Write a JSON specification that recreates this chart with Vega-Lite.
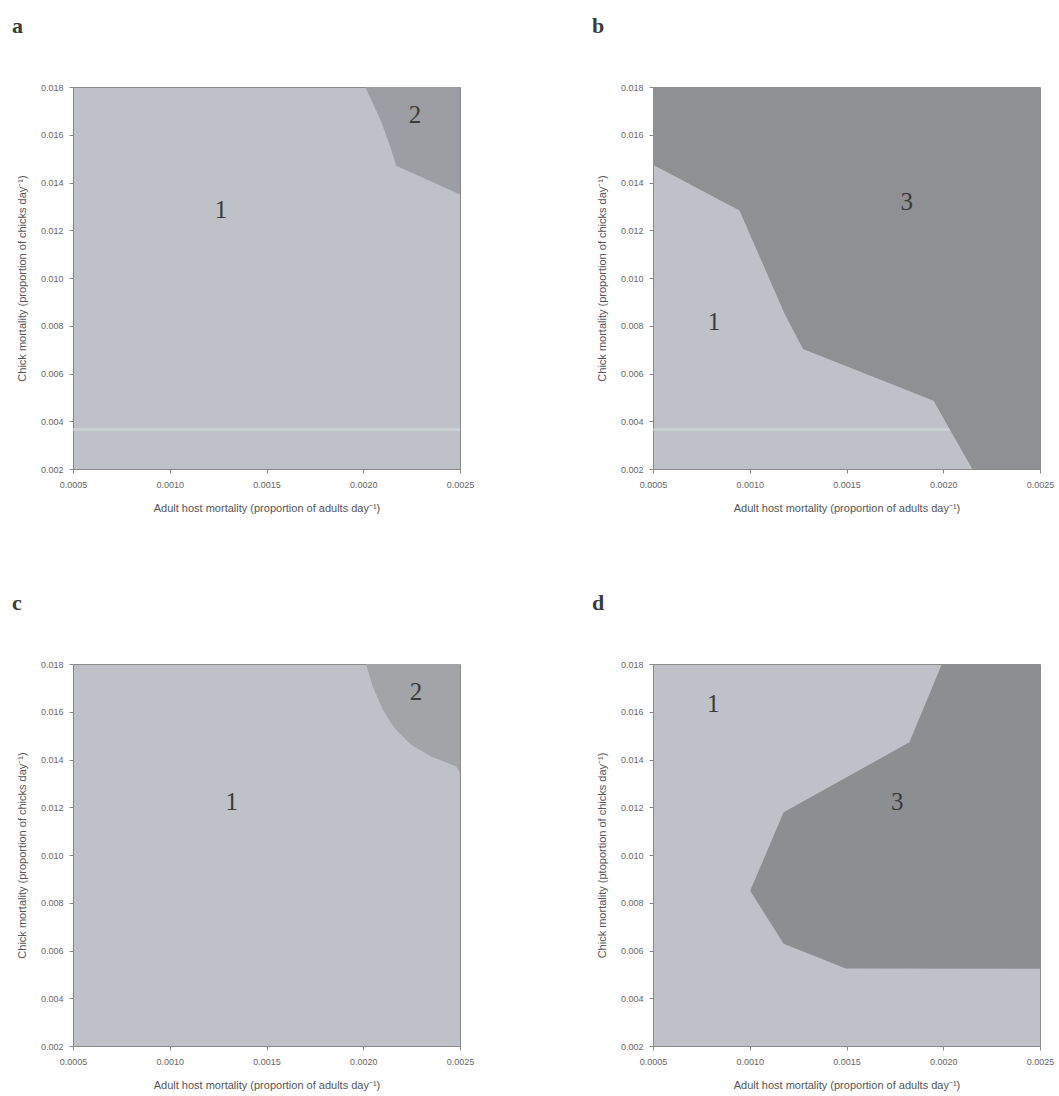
{
  "$schema": "https://vega.github.io/schema/vega-lite/v6.json",
  "padding": {"left": 11, "top": 14, "right": 5, "bottom": 5},
  "background": "white",
  "datasets": {
    "regions": [
      {"panel": "a", "y": 0.0135, "x": 0.0025},
      {"panel": "a", "y": 0.0147, "x": 0.00217},
      {"panel": "a", "y": 0.0155, "x": 0.00214},
      {"panel": "a", "y": 0.0166, "x": 0.00209},
      {"panel": "a", "y": 0.018, "x": 0.00201},
      {"panel": "b", "y": 0.002, "x": 0.00215},
      {"panel": "b", "y": 0.00486, "x": 0.00195},
      {"panel": "b", "y": 0.00703, "x": 0.001275},
      {"panel": "b", "y": 0.0085, "x": 0.00118},
      {"panel": "b", "y": 0.01283, "x": 0.000947},
      {"panel": "b", "y": 0.01474, "x": 0.0005},
      {"panel": "b", "y": 0.018, "x": 0.0005},
      {"panel": "c", "y": 0.01345, "x": 0.0025},
      {"panel": "c", "y": 0.01371, "x": 0.00248},
      {"panel": "c", "y": 0.01413, "x": 0.00235},
      {"panel": "c", "y": 0.01462, "x": 0.002247},
      {"panel": "c", "y": 0.01533, "x": 0.00216},
      {"panel": "c", "y": 0.01608, "x": 0.002101},
      {"panel": "c", "y": 0.01705, "x": 0.002049},
      {"panel": "c", "y": 0.018, "x": 0.002014},
      {"panel": "d", "y": 0.00524, "x": 0.0025},
      {"panel": "d", "y": 0.005241, "x": 0.001496},
      {"panel": "d", "y": 0.006285, "x": 0.001175},
      {"panel": "d", "y": 0.0085, "x": 0.001002},
      {"panel": "d", "y": 0.01179, "x": 0.001175},
      {"panel": "d", "y": 0.01472, "x": 0.001825},
      {"panel": "d", "y": 0.018, "x": 0.001993}
    ],
    "labels": [
      {"panel": "a", "x": 0.001265, "y": 0.01284, "label": "1"},
      {"panel": "a", "x": 0.002267, "y": 0.01682, "label": "2"},
      {"panel": "b", "x": 0.000815, "y": 0.00816, "label": "1"},
      {"panel": "b", "x": 0.001811, "y": 0.01317, "label": "3"},
      {"panel": "c", "x": 0.00132, "y": 0.01222, "label": "1"},
      {"panel": "c", "x": 0.002273, "y": 0.01684, "label": "2"},
      {"panel": "d", "x": 0.000812, "y": 0.01632, "label": "1"},
      {"panel": "d", "x": 0.001762, "y": 0.01221, "label": "3"}
    ],
    "stripes": [
      {"panel": "a", "y": 0.00365},
      {"panel": "b", "y": 0.00365}
    ]
  },
  "config": {
    "view": {"fill": "#bec2c8", "stroke": "#8a8a8a", "strokeWidth": 1},
    "axis": {
      "grid": false,
      "labelFont": "Liberation Sans",
      "labelFontSize": 9,
      "labelColor": "#666666",
      "titleFont": "Liberation Sans",
      "titleFontSize": 11,
      "titleFontWeight": "normal",
      "titleColor": "#555555",
      "tickColor": "#888888",
      "domainColor": "#888888",
      "tickSize": 4,
      "labelFlush": false,
      "labelOverlap": false,
      "labelBound": false
    },
    "axisX": {"labelPadding": 7, "titlePadding": 13},
    "axisY": {"labelPadding": 6, "titlePadding": 13},
    "title": {
      "font": "Liberation Serif",
      "fontSize": 22,
      "fontWeight": "bold",
      "color": "#3a3a3a",
      "anchor": "start",
      "frame": "group",
      "dx": -61,
      "offset": 45
    },
    "text": {"font": "Liberation Serif", "fontSize": 25, "color": "#3a3a3a"}
  },
  "bounds": "flush",
  "columns": 2,
  "spacing": {"row": 195, "column": 193},
  "concat": [
    {
      "title": "a",
      "width": 387, "height": 382,
      "layer": [
        {
          "data": {"name": "stripes"},
          "transform": [{"filter": "datum.panel === 'a'"}],
          "mark": {"type": "rule", "color": "#cfdcd8", "strokeWidth": 3, "opacity": 0.55},
          "encoding": {"y": {"field": "y", "type": "quantitative", "scale": {"domain": [0.002, 0.018], "nice": false, "zero": false},
                  "axis": {"values": [0.002, 0.004, 0.006, 0.008, 0.010, 0.012, 0.014, 0.016, 0.018], "format": ".3f", "title": "Chick mortality (proportion of chicks day⁻¹)"}}}
        },
        {
          "data": {"name": "regions"},
          "transform": [{"filter": "datum.panel === 'a'"}],
          "mark": {"type": "area", "orient": "horizontal", "color": "#9c9ea3"},
          "encoding": {
            "y": {"field": "y", "type": "quantitative"},
            "x": {"field": "x", "type": "quantitative", "scale": {"domain": [0.0005, 0.0025], "nice": false, "zero": false},
                  "axis": {"values": [0.0005, 0.001, 0.0015, 0.002, 0.0025], "format": ".4f", "title": "Adult host mortality (proportion of adults day⁻¹)"}},
            "x2": {"datum": 0.0025}
          }
        },
        {
          "data": {"name": "labels"},
          "transform": [{"filter": "datum.panel === 'a'"}],
          "mark": {"type": "text"},
          "encoding": {
            "x": {"field": "x", "type": "quantitative"},
            "y": {"field": "y", "type": "quantitative"},
            "text": {"field": "label"}
          }
        }
      ]
    },
    {
      "title": "b",
      "width": 387, "height": 382,
      "layer": [
        {
          "data": {"name": "stripes"},
          "transform": [{"filter": "datum.panel === 'b'"}],
          "mark": {"type": "rule", "color": "#cfdcd8", "strokeWidth": 3, "opacity": 0.55},
          "encoding": {"y": {"field": "y", "type": "quantitative", "scale": {"domain": [0.002, 0.018], "nice": false, "zero": false},
                  "axis": {"values": [0.002, 0.004, 0.006, 0.008, 0.010, 0.012, 0.014, 0.016, 0.018], "format": ".3f", "title": "Chick mortality (proportion of chicks day⁻¹)"}}}
        },
        {
          "data": {"name": "regions"},
          "transform": [{"filter": "datum.panel === 'b'"}],
          "mark": {"type": "area", "orient": "horizontal", "color": "#8e9094"},
          "encoding": {
            "y": {"field": "y", "type": "quantitative"},
            "x": {"field": "x", "type": "quantitative", "scale": {"domain": [0.0005, 0.0025], "nice": false, "zero": false},
                  "axis": {"values": [0.0005, 0.001, 0.0015, 0.002, 0.0025], "format": ".4f", "title": "Adult host mortality (proportion of adults day⁻¹)"}},
            "x2": {"datum": 0.0025}
          }
        },
        {
          "data": {"name": "labels"},
          "transform": [{"filter": "datum.panel === 'b'"}],
          "mark": {"type": "text"},
          "encoding": {
            "x": {"field": "x", "type": "quantitative"},
            "y": {"field": "y", "type": "quantitative"},
            "text": {"field": "label"}
          }
        }
      ]
    },
    {
      "title": "c",
      "width": 387, "height": 382,
      "layer": [
        {
          "data": {"name": "regions"},
          "transform": [{"filter": "datum.panel === 'c'"}],
          "mark": {"type": "area", "orient": "horizontal", "color": "#a2a4a8"},
          "encoding": {
            "y": {"field": "y", "type": "quantitative", "scale": {"domain": [0.002, 0.018], "nice": false, "zero": false},
                  "axis": {"values": [0.002, 0.004, 0.006, 0.008, 0.010, 0.012, 0.014, 0.016, 0.018], "format": ".3f", "title": "Chick mortality (proportion of chicks day⁻¹)"}},
            "x": {"field": "x", "type": "quantitative", "scale": {"domain": [0.0005, 0.0025], "nice": false, "zero": false},
                  "axis": {"values": [0.0005, 0.001, 0.0015, 0.002, 0.0025], "format": ".4f", "title": "Adult host mortality (proportion of adults day⁻¹)"}},
            "x2": {"datum": 0.0025}
          }
        },
        {
          "data": {"name": "labels"},
          "transform": [{"filter": "datum.panel === 'c'"}],
          "mark": {"type": "text"},
          "encoding": {
            "x": {"field": "x", "type": "quantitative"},
            "y": {"field": "y", "type": "quantitative"},
            "text": {"field": "label"}
          }
        }
      ]
    },
    {
      "title": "d",
      "width": 387, "height": 382,
      "layer": [
        {
          "data": {"name": "regions"},
          "transform": [{"filter": "datum.panel === 'd'"}],
          "mark": {"type": "area", "orient": "horizontal", "color": "#8d8e92"},
          "encoding": {
            "y": {"field": "y", "type": "quantitative", "scale": {"domain": [0.002, 0.018], "nice": false, "zero": false},
                  "axis": {"values": [0.002, 0.004, 0.006, 0.008, 0.010, 0.012, 0.014, 0.016, 0.018], "format": ".3f", "title": "Chick mortality (ptoportion of chicks day⁻¹)"}},
            "x": {"field": "x", "type": "quantitative", "scale": {"domain": [0.0005, 0.0025], "nice": false, "zero": false},
                  "axis": {"values": [0.0005, 0.001, 0.0015, 0.002, 0.0025], "format": ".4f", "title": "Adult host mortality (proportion of adults day⁻¹)"}},
            "x2": {"datum": 0.0025}
          }
        },
        {
          "data": {"name": "labels"},
          "transform": [{"filter": "datum.panel === 'd'"}],
          "mark": {"type": "text"},
          "encoding": {
            "x": {"field": "x", "type": "quantitative"},
            "y": {"field": "y", "type": "quantitative"},
            "text": {"field": "label"}
          }
        }
      ]
    }
  ]
}
